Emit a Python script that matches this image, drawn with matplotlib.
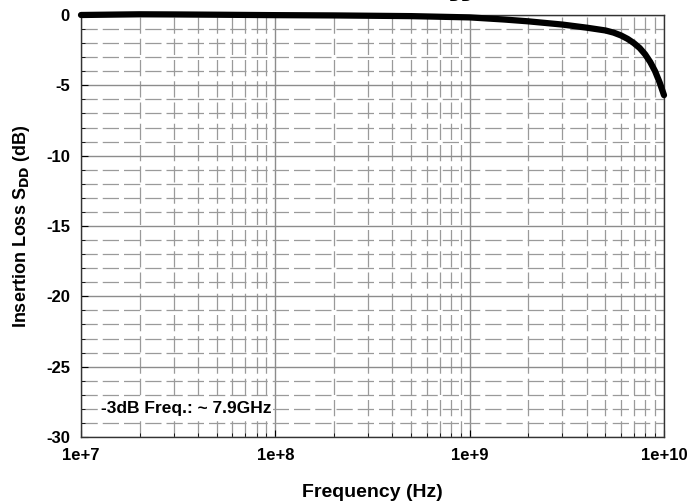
import matplotlib
matplotlib.use("Agg")
import matplotlib.pyplot as plt
from matplotlib.ticker import LogLocator, MultipleLocator, FixedLocator
import numpy as np

plt.rcParams['font.family'] = ['Liberation Sans', 'DejaVu Sans']
plt.rcParams['font.weight'] = 'bold'
plt.rcParams['axes.unicode_minus'] = False
plt.rcParams['mathtext.default'] = 'bf'

# values
freq_hz = [1e7, 1.5e7, 2e7, 3e7, 5e7, 1e8, 2e8, 5e8, 1e9, 1.5e9, 2e9, 3e9,
           4e9, 5e9, 5.5e9, 6e9, 6.5e9, 7e9, 7.5e9, 8e9, 8.5e9, 9e9, 9.5e9, 1e10]
loss_db = [0.0, 0.03, 0.05, 0.04, 0.02, -0.01, -0.03, -0.08, -0.17, -0.32,
           -0.45, -0.68, -0.9, -1.1, -1.25, -1.45, -1.7, -2.0, -2.35, -2.8,
           -3.35, -4.0, -4.8, -5.7]
ytick_vals = [0, -5, -10, -15, -20, -25, -30]
xtick_vals = [1e7, 1e8, 1e9, 1e10]
xtick_labels = ['1e+7', '1e+8', '1e+9', '1e+10']
note = '-3dB Freq.: ~ 7.9GHz'

fig = plt.figure(figsize=(6.93, 5.01), dpi=100)
ax = fig.add_axes([81/693, 1 - 437/501, (664-81)/693, (437-15)/501])

ax.plot(freq_hz, loss_db, color='black', lw=4.5, solid_joinstyle='round',
        solid_capstyle='round', zorder=5, clip_on=False)

ax.set_xscale('log')
ax.set_xlim(1e7, 1e10)
ax.set_ylim(-30, 0)
ax.xaxis.set_major_locator(FixedLocator(xtick_vals))
ax.set_xticklabels(xtick_labels)
ax.xaxis.set_minor_locator(LogLocator(base=10, subs=np.arange(2, 10)))
ax.xaxis.set_minor_formatter(plt.NullFormatter())
ax.yaxis.set_major_locator(FixedLocator(ytick_vals))
ax.yaxis.set_minor_locator(MultipleLocator(1))

ax.grid(which='major', color='#8c8c8c', lw=1.0, ls='-')
ax.grid(which='minor', color='#9a9a9a', lw=0.9, ls=(0, (13, 4)))
ax.set_axisbelow(True)

ax.tick_params(which='both', direction='in', labelsize=12)
ax.tick_params(which='major', length=5, pad=8)
ax.tick_params(which='minor', length=3)
for lab in ax.get_xticklabels() + ax.get_yticklabels():
    lab.set_fontweight('bold')
for s in ax.spines.values():
    s.set_color('#333333')
    s.set_linewidth(1.0)

ax.set_xlabel('Frequency (Hz)', fontsize=14, fontweight='bold', labelpad=15)
ax.set_ylabel('Insertion Loss S$_{DD}$ (dB)', fontsize=13,
              fontweight='bold', labelpad=10)

ax.text(1.27e7, -28, note, fontsize=12.5, fontweight='bold', va='center',
        ha='left', bbox=dict(facecolor='white', edgecolor='none', pad=1))

fig.text(473/693, 1 + 1/501, 'Insertion Loss S$_{DD}$', fontsize=14,
         fontweight='bold', ha='right', va='baseline')

fig.savefig('out.png', dpi=100)
